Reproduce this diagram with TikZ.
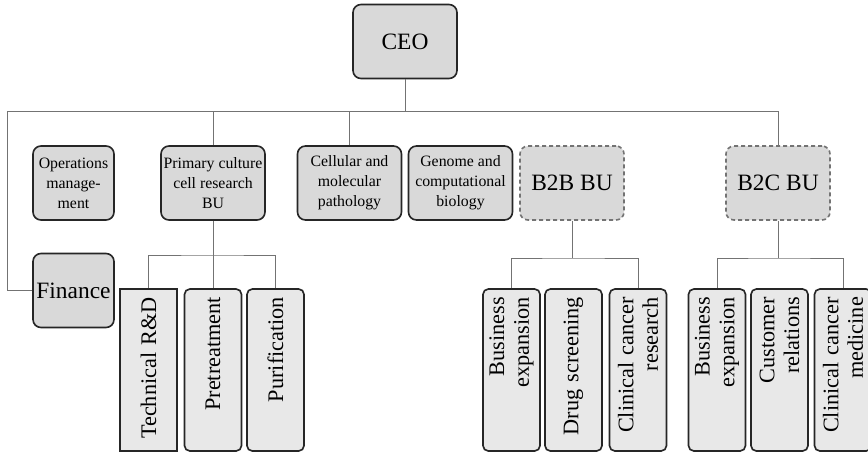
\documentclass[tikz,border=0pt]{standalone}
\usepackage{fontspec}
\setmainfont{Liberation Serif}
\usepackage{tikz}
\usetikzlibrary{arrows.meta,positioning,calc}

\begin{document}
\begin{tikzpicture} [
  x=0.3mm, y=-0.3mm,
  unit box/.style= {rectangle,rounded corners=2.4mm,draw=black!85,line width=1.4pt,fill=gray!30,minimum width=31.2mm,minimum height=22.2mm,inner sep=0.5mm,align=center,font=\fontsize{13.5}{17}\selectfont},
  big text/.style= {font=\fontsize{20}{24}\selectfont},
  bu box/.style= {unit box,draw=black!55,dash pattern=on 1.2mm off 0.9mm,big text},
  task box/.style= {rectangle,rounded corners=1.6mm,draw=black!85,line width=1.4pt,fill=gray!18,rotate=90,minimum width=48.6mm,minimum height=17.1mm,inner xsep=2.4mm,inner ysep=0.5mm,text width=43.8mm,align=right,font=\fontsize{19}{21}\selectfont},
  link/.style= {draw=black!55,line width=0.8pt}
]
\useasboundingbox (0,0) rectangle (868,452);
\node (ceo) [unit box,big text] at (405,41.5) {CEO};
\node (ops) [unit box,minimum width=24.3mm] at (73.5,183) {Operations\\manage-\\ment};
\node (primary) [unit box] at (213,183) {Primary culture\\cell research\\BU};
\node (cell) [unit box] at (349.5,183) {Cellular and\\molecular\\pathology};
\node (genome) [unit box] at (460.5,183) {Genome and\\computational\\biology};
\node (b2b) [bu box] at (572,183) {B2B BU};
\node (b2c) [bu box] at (778,183) {B2C BU};
\node (fin) [unit box,big text,minimum width=24.3mm] at (73.5,290.5) {Finance};

\node (rd) [task box,sharp corners] at (148.5,370) {Technical R\&D};
\node (pre) [task box] at (213,370) {Pretreatment};
\node (pur) [task box] at (275.5,370) {Purification};
\node (exp1) [task box] at (511.5,370) {Business\\expansion};
\node (drug) [task box] at (573.5,370) {Drug screening};
\node (res) [task box] at (638,370) {Clinical cancer\\research};
\node (exp2) [task box] at (717,370) {Business\\expansion};
\node (cust) [task box] at (779.5,370) {Customer\\relations};
\node (med) [task box] at (843,370) {Clinical cancer\\medicine};

\coordinate (left) at (7,111);
\coordinate (pbar) at (213,255);
\coordinate (b2bbar) at (572,258);
\coordinate (b2cbar) at (778,258);

\draw [link] (ceo) -- (ceo |- left);
\draw [link] (fin) -| (left) -| (b2c);
\draw [link] (primary) -- (primary |- left);
\draw [link] (cell) -- (cell |- left);
\draw [link] (primary) -- (pre);
\draw [link] (rd) |- (pbar) -| (pur);
\draw [link] (b2b) -- (b2bbar);
\draw [link] (exp1) |- (b2bbar) -| (res);
\draw [link] (b2c) -- (b2cbar);
\draw [link] (exp2) |- (b2cbar) -| (med);
\end{tikzpicture}
\end{document}
